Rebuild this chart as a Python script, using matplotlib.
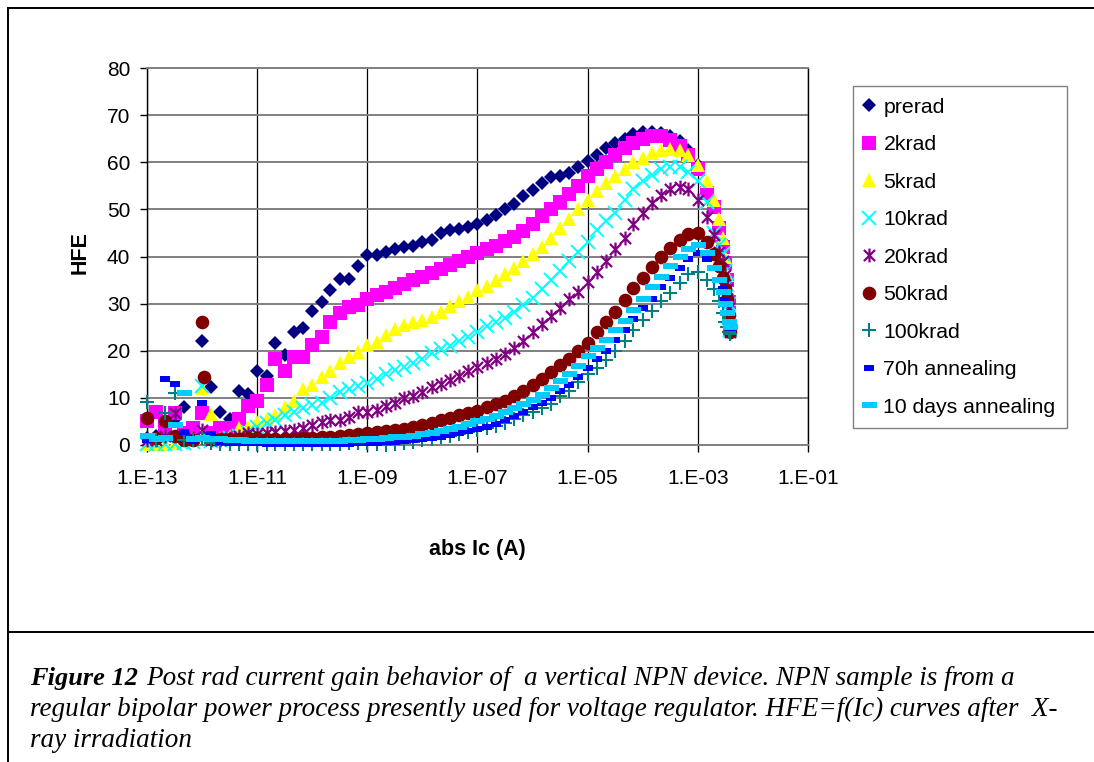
import matplotlib
matplotlib.use("Agg")
import matplotlib.pyplot as plt
from matplotlib.lines import Line2D
from matplotlib.path import Path
from matplotlib.ticker import FixedLocator, NullLocator

W, H = 1094, 762

# log10(Ic): six readings per decade, then the dense falling tail
LOG_IC = [-13.0, -12.83, -12.67, -12.5, -12.33, -12.17,
          -12.0, -11.83, -11.67, -11.5, -11.33, -11.17,
          -11.0, -10.83, -10.67, -10.5, -10.33, -10.17,
          -10.0, -9.83, -9.67, -9.5, -9.33, -9.17,
          -9.0, -8.83, -8.67, -8.5, -8.33, -8.17,
          -8.0, -7.83, -7.67, -7.5, -7.33, -7.17,
          -7.0, -6.83, -6.67, -6.5, -6.33, -6.17,
          -6.0, -5.83, -5.67, -5.5, -5.33, -5.17,
          -5.0, -4.83, -4.67, -4.5, -4.33, -4.17,
          -4.0, -3.83, -3.67, -3.5, -3.33, -3.17,
          -3.0, -2.83, -2.71, -2.61, -2.54, -2.5, -2.47, -2.43, -2.41]

PRERAD = [1.5, 2.0, 4.0, 5.5, 8.0, 3.5,
          22.0, 12.4, 6.9, 5.6, 11.5, 10.8,
          15.7, 14.6, 21.7, 19.0, 24.0, 24.8,
          28.4, 30.4, 32.8, 35.3, 35.2, 38.0,
          40.4, 40.3, 41.0, 41.5, 42.0, 42.3,
          43.0, 43.6, 45.0, 45.6, 45.8, 46.2,
          47.0, 47.8, 48.8, 50.0, 51.2, 52.8,
          54.2, 55.5, 56.8, 57.0, 57.8, 59.0,
          60.2, 61.6, 63.0, 64.0, 65.0, 66.0,
          66.5, 66.5, 66.3, 65.5, 64.5, 62.5,
          59.5, 54.5, 51.0, 47.0, 43.0, 39.0, 35.0, 30.0, 25.0]
KRAD2 = [5.0, 7.0, 4.0, 6.8, 2.5, 3.6,
         6.8, 2.5, 3.6, 3.6, 5.5, 8.3,
         9.3, 12.7, 18.2, 15.7, 18.7, 18.7,
         21.2, 23.0, 26.0, 28.0, 29.2, 29.8,
         31.0, 31.8, 32.5, 33.3, 34.2, 35.0,
         35.6, 36.5, 37.3, 38.2, 39.0, 39.8,
         40.8, 41.5, 42.3, 43.2, 44.2, 45.5,
         47.0, 48.5, 50.0, 51.5, 53.3, 55.0,
         57.0, 58.5, 60.0, 61.5, 63.0, 64.0,
         65.0, 65.5, 65.5, 64.8, 63.5, 61.5,
         58.5, 53.5, 50.5, 46.0, 42.0, 38.6, 35.0, 30.4, 25.0]
KRAD5 = [0.3, 0.3, 0.3, 0.5, 1.0, 1.5,
         12.0, 6.6, 1.5, 2.0, 3.6, 3.9,
         4.9, 5.6, 6.4, 8.0, 9.3, 11.8,
         12.7, 14.5, 15.7, 17.4, 18.7, 19.8,
         21.2, 21.9, 23.3, 24.6, 25.5, 26.0,
         26.5, 27.2, 28.2, 29.4, 30.5, 31.5,
         32.8, 33.8, 35.0, 36.2, 37.5, 39.0,
         40.5, 42.0, 44.0, 46.0, 48.0, 50.0,
         52.0, 54.0, 55.5, 57.0, 58.5, 60.0,
         61.0, 62.0, 62.5, 62.8, 62.5, 61.5,
         59.5, 56.0, 52.0, 48.0, 44.0, 40.0, 36.0, 31.0, 25.0]
KRAD10 = [0.2, 0.2, 0.3, 0.3, 0.5, 0.6,
          12.5, 0.8, 1.0, 1.5, 2.0, 2.8,
          3.8, 4.7, 5.4, 6.4, 7.0, 7.9,
          8.5, 9.0, 10.0, 11.3, 11.8, 12.5,
          13.2, 14.0, 15.0, 15.9, 16.6, 17.3,
          18.3, 19.6, 20.3, 21.0, 22.0, 22.9,
          24.0, 25.2, 26.0, 27.0, 28.2, 29.8,
          31.2, 33.0, 35.0, 37.0, 39.0, 41.0,
          43.0, 45.6, 47.5, 49.3, 52.0, 54.3,
          56.0, 57.4, 58.6, 58.9, 59.0, 58.0,
          56.0, 51.6, 45.0, 42.5, 40.5, 37.0, 34.0, 30.0, 24.5]
KRAD20 = [1.0, 1.0, 2.0, 6.8, 1.5, 1.5,
          3.2, 1.0, 1.0, 1.5, 2.0, 2.5,
          2.3, 2.5, 2.8, 3.0, 3.2, 3.6,
          4.2, 4.8, 5.3, 5.3, 6.0, 7.0,
          7.0, 7.4, 8.2, 9.0, 10.0, 10.5,
          11.3, 12.3, 13.0, 13.8, 14.7, 15.7,
          16.5, 17.4, 18.3, 19.3, 20.5, 22.0,
          24.0, 25.7, 27.3, 29.0, 31.0, 32.5,
          34.5, 36.7, 39.0, 41.5, 44.0, 46.8,
          49.3, 51.3, 53.0, 54.3, 54.8, 54.3,
          52.0, 48.4, 44.5, 41.0, 39.0, 36.0, 33.0, 29.0, 24.0]
KRAD50 = [5.7, 1.5, 5.0, 2.0, 1.0, 1.0,
          26.0, 1.2, 1.2, 1.2, 1.2, 1.5,
          1.5, 1.3, 1.3, 1.3, 1.3, 1.4,
          1.5, 1.7, 1.8, 2.0, 2.2, 2.4,
          2.5, 2.7, 2.9, 3.1, 3.5, 3.9,
          4.3, 4.7, 5.2, 5.7, 6.3, 6.8,
          7.3, 8.0, 8.6, 9.4, 10.3, 11.5,
          12.7, 14.0, 15.5, 17.0, 18.3, 20.0,
          21.7, 24.0, 26.0, 28.3, 30.8, 33.3,
          35.5, 37.8, 40.0, 41.8, 43.6, 44.8,
          45.0, 43.0, 40.5, 38.0, 35.5, 33.0, 31.0, 27.5, 24.0]
KRAD100 = [9.1, 1.0, 6.8, 11.0, 1.0, 1.0,
           1.5, 0.5, 0.3, 0.3, 0.3, 0.2,
           0.2, 0.2, 0.2, 0.2, 0.2, 0.2,
           0.2, 0.2, 0.3, 0.3, 0.4, 0.4,
           0.5, 0.2, 0.1, 0.3, 0.4, 0.7,
           1.0, 1.2, 1.6, 2.0, 2.3, 2.8,
           3.2, 3.6, 4.0, 4.7, 5.5, 6.3,
           7.0, 7.8, 8.8, 10.3, 11.5, 13.3,
           15.0, 16.4, 18.0, 20.0, 22.0, 24.5,
           26.5, 28.5, 30.5, 32.3, 34.3, 36.2,
           36.7, 35.0, 33.0, 30.5, 28.0, 26.0, 25.0, 24.0, 23.5]
H70 = [1.0, 1.2, 14.0, 13.0, 2.8, 0.8,
       9.0, 2.3, 0.6, 0.5, 0.5, 0.4,
       0.4, 0.3, 0.3, 0.3, 0.3, 0.3,
       0.3, 0.3, 0.3, 0.3, 0.3, 0.4,
       0.4, 0.5, 0.6, 0.7, 0.9, 1.1,
       1.2, 1.5, 1.8, 2.2, 2.5, 3.0,
       3.4, 3.9, 4.5, 5.2, 6.1, 7.0,
       8.0, 9.0, 10.0, 11.5, 12.7, 14.5,
       16.3, 18.2, 20.0, 22.2, 24.5, 26.8,
       29.0, 31.0, 33.5, 35.5, 37.5, 39.5,
       40.8, 39.5, 37.5, 35.0, 33.0, 30.8, 28.0, 26.0, 24.8]
DAYS10 = [2.0, 1.2, 1.5, 4.2, 11.0, 1.2,
          1.5, 1.3, 1.2, 1.0, 1.0, 0.9,
          0.9, 0.8, 0.8, 0.8, 0.8, 0.8,
          0.8, 0.8, 0.9, 0.9, 1.0, 1.1,
          1.2, 1.3, 1.4, 1.6, 1.8, 2.0,
          2.3, 2.6, 3.0, 3.5, 3.9, 4.4,
          5.0, 5.6, 6.2, 7.0, 7.8, 8.7,
          9.6, 10.7, 12.0, 13.5, 15.0, 16.8,
          18.8, 20.5, 22.3, 24.3, 26.3, 28.7,
          31.0, 33.5, 35.7, 38.0, 39.8, 41.5,
          42.4, 40.8, 37.5, 35.0, 32.5, 30.0, 28.0, 26.0, 25.0]

# second reading of the 50krad series at the 1 pA range change
KRAD50_EXTRA_LOG = [-11.96]
KRAD50_EXTRA = [14.5]

LABELS = ["prerad", "2krad", "5krad", "10krad", "20krad", "50krad",
          "100krad", "70h annealing", "10 days annealing"]
X_TICKS = [1e-13, 1e-11, 1e-9, 1e-7, 1e-5, 1e-3, 1e-1]
X_TICK_LABELS = ["1.E-13", "1.E-11", "1.E-09", "1.E-07", "1.E-05", "1.E-03", "1.E-01"]
Y_TICKS = [0, 10, 20, 30, 40, 50, 60, 70, 80]

NAVY = "#000080"
MAGENTA = "#FF00FF"
YELLOW = "#FFFF00"
CYAN = "#00FFFF"
PURPLE = "#800080"
MAROON = "#800000"
TEAL = "#008080"
BLUE = "#0000FF"
SKY = "#00CCFF"
GRID = "#808080"

# custom markers
ASTERISK = Path([(-1, -1), (1, 1), (-1, 1), (1, -1), (0, -1.25), (0, 1.25)],
                [Path.MOVETO, Path.LINETO, Path.MOVETO, Path.LINETO, Path.MOVETO, Path.LINETO])
DASH_BLUE = Path([(-1, -0.62), (1, -0.62), (1, 0.62), (-1, 0.62), (-1, -0.62)], closed=True)
DASH_SKY = Path([(-1, -0.42), (1, -0.42), (1, 0.42), (-1, 0.42), (-1, -0.42)], closed=True)


def px_x(x):
    return x / W


def px_y(y):
    return 1 - y / H


plt.rcParams["font.family"] = ["Liberation Sans", "DejaVu Sans"]
fig = plt.figure(figsize=(W / 100, H / 100), dpi=100, facecolor="white")
ax = fig.add_axes([px_x(147), px_y(445), (808 - 147) / W, (445 - 68) / H])

styles = [
    (PRERAD, "D", NAVY, 7.4, 0),
    (KRAD2, "s", MAGENTA, 10.0, 0),
    (KRAD5, "^", YELLOW, 10.5, 0),
    (KRAD10, "x", CYAN, 9.5, 1.4),
    (KRAD20, ASTERISK, PURPLE, 10.0, 1.6),
    (KRAD50, "o", MAROON, 9.8, 0),
    (KRAD100, "+", TEAL, 9.5, 1.5),
    (H70, DASH_BLUE, BLUE, 7.2, 0),
    (DAYS10, DASH_SKY, SKY, 10.8, 0),
]
ic = [10.0 ** v for v in LOG_IC]
for (vals, marker, color, size, edge), label in zip(styles, LABELS):
    ax.plot(ic, vals, ls="none", marker=marker, ms=size, mew=edge,
            mfc=color if edge == 0 else "none", mec=color, label=label, clip_on=False, zorder=3)
    if vals is KRAD50:
        ax.plot([10.0 ** v for v in KRAD50_EXTRA_LOG], KRAD50_EXTRA, ls="none",
                marker=marker, ms=size, mew=0, mfc=color, zorder=3)

ax.set_xscale("log")
ax.set_xlim(1e-13, 1e-1)
ax.set_ylim(0, 80)
ax.xaxis.set_major_locator(FixedLocator(X_TICKS))
ax.xaxis.set_minor_locator(NullLocator())
ax.set_xticklabels(X_TICK_LABELS)
ax.set_yticks(Y_TICKS)
ax.tick_params(axis="x", labelsize=15, length=5, width=1, color="black", pad=12)
ax.tick_params(axis="y", labelsize=15, length=5, width=1, color="black", pad=7)
ax.xaxis.grid(True, color="black", lw=0.9)
ax.yaxis.grid(True, color=GRID, lw=1.4)
ax.set_axisbelow(True)
for name in ["top", "bottom"]:
    ax.spines[name].set_color(GRID)
    ax.spines[name].set_linewidth(1.4)
for name in ["left", "right"]:
    ax.spines[name].set_color("black")
    ax.spines[name].set_linewidth(1.0)

fig.text(px_x(80), px_y(253), "HFE", rotation=90, ha="center", va="center", fontsize=15.5, fontweight="bold")
fig.text(px_x(477), px_y(549), "abs Ic (A)", ha="center", va="center", fontsize=15.5, fontweight="bold")

leg = ax.legend(loc="upper left", bbox_to_anchor=(px_x(853), px_y(86)), bbox_transform=fig.transFigure,
                fontsize=15.3, frameon=True, fancybox=False, framealpha=1, edgecolor=GRID,
                borderaxespad=0, labelspacing=0.87, handletextpad=0.48, handlelength=0.4, borderpad=0.55)
leg.get_frame().set_linewidth(1.0)

# page frame from the source document
for xs, ys in [((8, 8), (8, 762)), ((8, 1094), (8, 8)), ((8, 1094), (632, 632))]:
    fig.add_artist(Line2D([px_x(v) for v in xs], [px_y(v) for v in ys], color="black", lw=1.4))

caption = dict(family="Liberation Serif", style="italic", va="center", ha="left")
fig.text(px_x(30), px_y(678.5), "Figure 12", fontweight="bold", fontsize=19, **caption)
fig.text(px_x(146), px_y(678.5), "Post rad current gain behavior of  a vertical NPN device. NPN sample is from a", fontsize=19.5, **caption)
fig.text(px_x(30), px_y(709.5), "regular bipolar power process presently used for voltage regulator. HFE=f(Ic) curves after  X-", fontsize=19.5, **caption)
fig.text(px_x(30), px_y(740.5), "ray irradiation", fontsize=19.5, **caption)

fig.savefig("out.png", dpi=100)
